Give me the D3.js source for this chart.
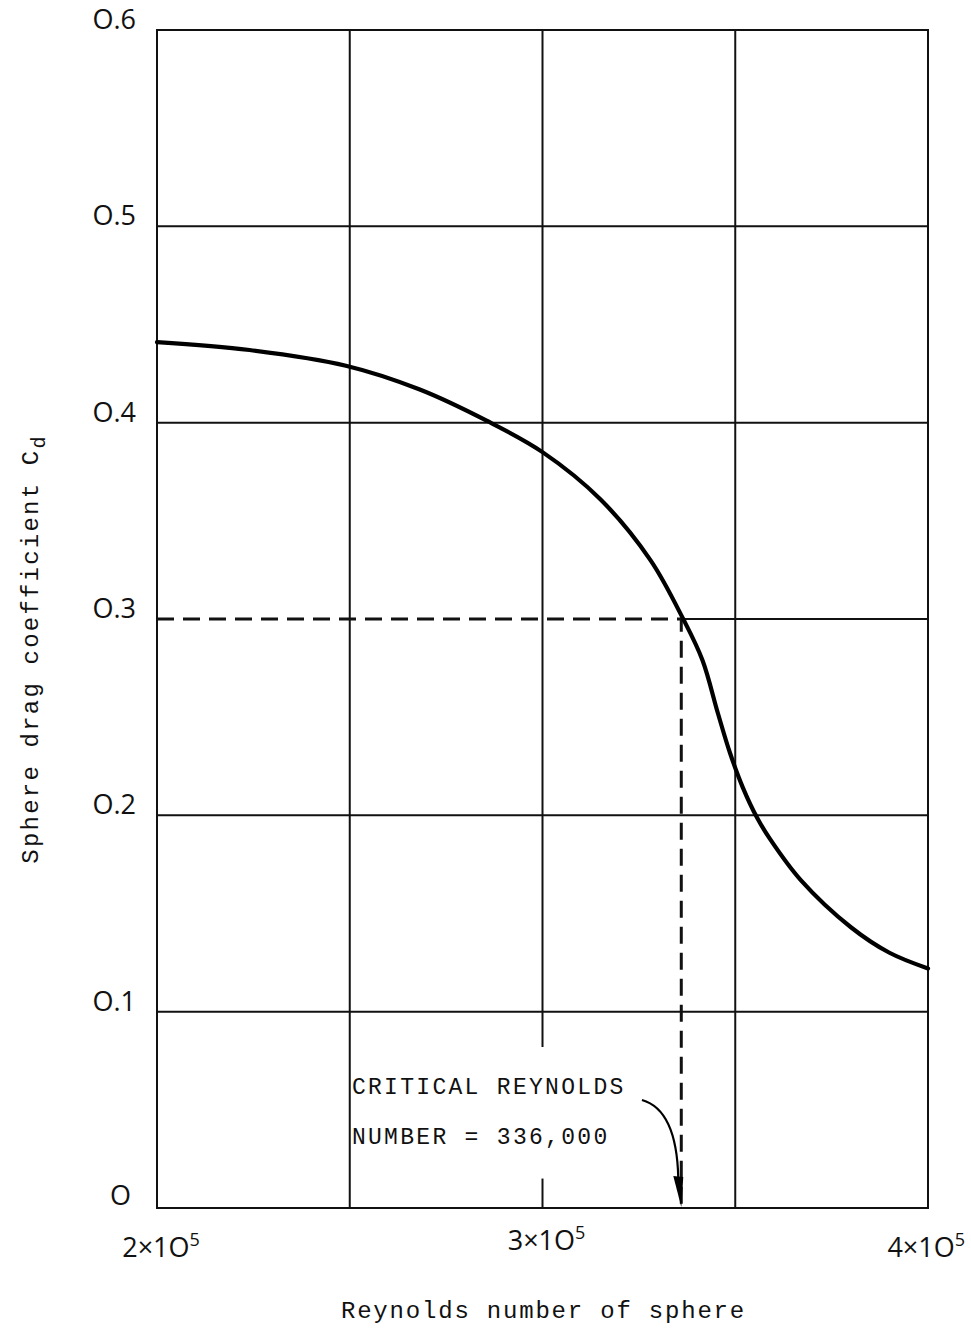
<!doctype html>
<html lang="en">
<head>
<meta charset="utf-8">
<title>Sphere drag coefficient</title>
<script src="https://cdn.jsdelivr.net/npm/d3@7"></script>
<style>
	body { margin: 0; background: #fff; }
	.grid line { stroke: #111; stroke-width: 2; }
	.tick-label { font-family: "Open Sans", "DejaVu Sans", sans-serif; font-size: 27px; fill: #111; }
	.title, .note { font-family: "Courier New", "Liberation Mono", monospace; fill: #111; }
</style>
</head>
<body>
<div id="viz"></div>
<script>
// DATA
var reynolds = [200000, 224000, 249000, 268000, 285500, 300000, 315000, 328000, 336500,
	341500, 345500, 348600, 352000, 355600, 359000, 367000, 380000, 390000, 400000];
var dragCoef = [0.441, 0.437, 0.429, 0.417, 0.401, 0.385, 0.361, 0.330, 0.300,
	0.279, 0.252, 0.232, 0.214, 0.199, 0.188, 0.167, 0.143, 0.130, 0.122];

var xGrid = [200000, 250000, 300000, 350000, 400000];
var yGrid = [0, 0.1, 0.2, 0.3, 0.4, 0.5, 0.6];
var yTickLabels = ["O", "O.1", "O.2", "O.3", "O.4", "O.5", "O.6"];
var xTickValues = [200000, 300000, 400000];
var xTickMant = ["2×1O", "3×1O", "4×1O"];

var criticalRe = 336000,
	criticalCd = 0.3;
var noteLines = ["CRITICAL REYNOLDS", "NUMBER = 336,000"];

(function(d3) {

	var w = 971, h = 1332;
	var margin = {top: 30, right: 43, bottom: 124, left: 157};

	var svg = d3.select("#viz").append("svg")
		.attr("width", w)
		.attr("height", h);

	var x = d3.scaleLinear().domain([200000, 400000]).range([margin.left, w - margin.right]);
	var y = d3.scaleLinear().domain([0, 0.6]).range([h - margin.bottom, margin.top]);

	// GRID (the 3x10^5 line is broken where the note sits,
	// the 0.3 line is replaced by the dashed line left of the critical point)
	var grid = svg.append("g").attr("class", "grid");
	xGrid.forEach(function(v) {
		var segs = v === 300000 ? [[0.082, 0.6], [0, 0.015]] : [[0, 0.6]];
		segs.forEach(function(s) {
			grid.append("line")
				.attr("x1", x(v)).attr("x2", x(v))
				.attr("y1", y(s[0]) + (s[0] === 0 ? 1 : 0)).attr("y2", y(s[1]) - (s[1] === 0.6 ? 1 : 0));
		});
	});
	grid.selectAll("line.h")
		.data(yGrid)
		.enter().append("line")
		.attr("class", "h")
		.attr("x1", function(d) { return d === criticalCd ? x(criticalRe) : x(200000) - 1; })
		.attr("x2", x(400000) + 1)
		.attr("y1", function(d) { return y(d); })
		.attr("y2", function(d) { return y(d); });

	// Y TICK LABELS
	svg.selectAll("text.ylab")
		.data(yGrid)
		.enter().append("text")
		.attr("class", "tick-label ylab")
		.attr("x", function(d) { return d === 0 ? 131 : 136; })
		.attr("y", function(d) { return d === 0 ? y(d) - 3 : y(d) - 1; })
		.attr("text-anchor", "end")
		.text(function(d, i) { return yTickLabels[i]; });

	// X TICK LABELS
	var xl = svg.selectAll("text.xlab")
		.data(xTickValues)
		.enter().append("text")
		.attr("class", "tick-label xlab")
		.attr("x", function(d, i) { return i === 2 ? x(d) + 37 : x(d) + 4; })
		.attr("y", function(d, i) { return i === 1 ? h - margin.bottom + 42 : h - margin.bottom + 49; })
		.attr("text-anchor", function(d, i) { return i === 2 ? "end" : "middle"; });
	xl.append("tspan").text(function(d, i) { return xTickMant[i]; });
	xl.append("tspan")
		.attr("dy", -11)
		.attr("font-size", 18)
		.text("5");

	// DASHED CRITICAL LINES
	svg.append("path")
		.attr("d", "M" + x(200000) + "," + y(criticalCd) + "H" + x(criticalRe) + "V" + y(0))
		.attr("fill", "none")
		.attr("stroke", "#111")
		.attr("stroke-width", 3)
		.attr("stroke-dasharray", "17,9");

	// CURVE
	var line = d3.line()
		.x(function(d) { return x(d[0]); })
		.y(function(d) { return y(d[1]); })
		.curve(d3.curveCatmullRom.alpha(0.5));

	svg.append("path")
		.datum(d3.zip(reynolds, dragCoef))
		.attr("d", line)
		.attr("fill", "none")
		.attr("stroke", "#000")
		.attr("stroke-width", 4.2)
		.attr("stroke-linecap", "round");

	// NOTE + ARROW
	svg.selectAll("text.note")
		.data(noteLines)
		.enter().append("text")
		.attr("class", "note")
		.attr("x", x(249000) + 6)
		.attr("y", function(d, i) { return y(0.058) + i * 50; })
		.attr("font-size", 23)
		.attr("letter-spacing", 2.3)
		.text(function(d) { return d; });

	var ax0 = x(325800), ay0 = y(0.055),
		axc = x(334800), ayc = y(0.05),
		ax1 = x(criticalRe), ay1 = y(0);
	svg.append("path")
		.attr("d", "M" + ax0 + "," + ay0 + "Q" + axc + "," + ayc + " " + (ax1 - 3) + "," + (ay1 - 30))
		.attr("fill", "none")
		.attr("stroke", "#000")
		.attr("stroke-width", 2.2);
	svg.append("path")
		.attr("d", "M" + (ax1 - 8) + "," + (ay1 - 32) + "L" + (ax1 + 2) + "," + (ay1 - 31) + "L" + ax1 + "," + (ay1 - 1) + "Z")
		.attr("fill", "#000");

	// AXIS TITLES
	svg.append("text")
		.attr("class", "title")
		.attr("x", x(300000) + 1)
		.attr("y", h - 14)
		.attr("text-anchor", "middle")
		.attr("font-size", 24)
		.attr("letter-spacing", 1.8)
		.text("Reynolds number of sphere");

	var yt = svg.append("text")
		.attr("class", "title")
		.attr("transform", "translate(38," + (y(0.3) + 30) + ") rotate(-90)")
		.attr("text-anchor", "middle")
		.attr("font-size", 24)
		.attr("letter-spacing", 2.2);
	yt.append("tspan").text("Sphere drag coefficient C");
	yt.append("tspan").attr("dy", 7).attr("font-size", 20).text("d");

})(d3);
</script>
</body>
</html>
